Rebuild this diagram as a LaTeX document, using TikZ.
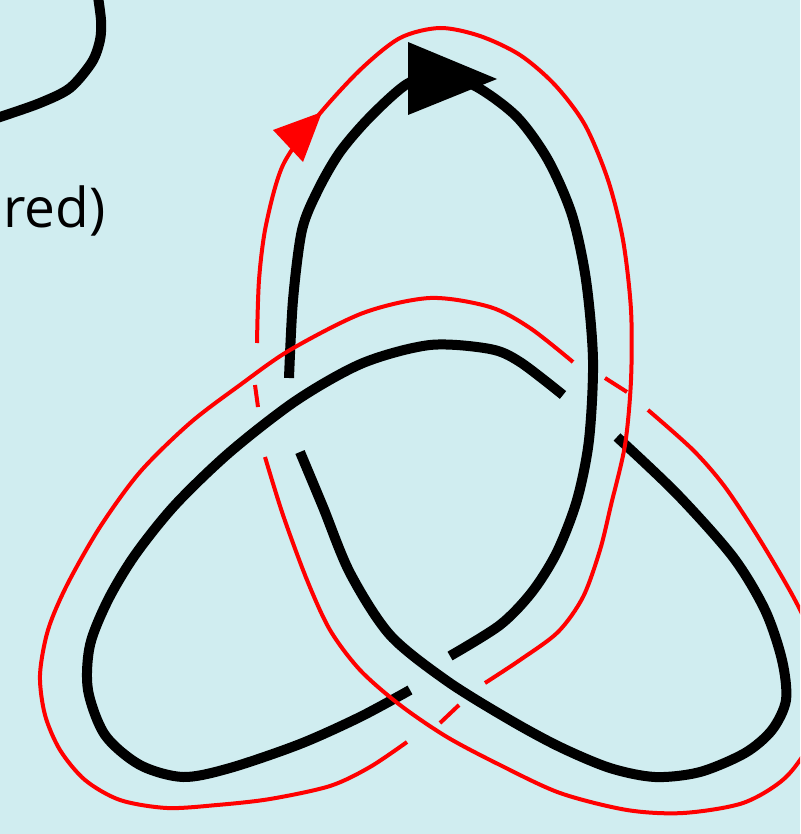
\documentclass[tikz,border=0pt]{standalone}
\usepackage{fontspec}
\setmainfont{Open Sans}
\definecolor{knotbg}{RGB}{208,237,240}
\definecolor{knotred}{RGB}{255,0,0}

\begin{document}
\begin{tikzpicture}[x=1pt,y=-1pt,
    strand/.style={line width=10pt,line cap=butt,line join=round},
    framing/.style={draw=knotred,line width=4pt,line cap=butt,line join=round}]
  \useasboundingbox (0,0) rectangle (800,834);
  \fill[knotbg] (0,0) rectangle (800,834);
  \clip (0,0) rectangle (800,834);
  % piece of the neighbouring drawing, top left
  \draw[strand] plot[smooth] coordinates {(97,-10) (101,20) (100,40) (92,62) (70,88) (40,103) (0,117) (-10,120)};
  \node[anchor=base east,inner sep=0pt,font=\fontsize{55}{66}\selectfont] (lbl) at (106,227) {red)};
  % trefoil, three arcs
  \draw[strand] plot[smooth] coordinates {(289,378) (293,300) (302,230) (318,190) (340,152) (370,117) (407,84) (440,74) (477,87) (517,117) (548,160) (572,215) (586,280) (593,360) (589,440) (577,500) (557,552) (532,592) (500,625) (450,656)};
  \draw[strand] plot[smooth] coordinates {(410,690) (360,717) (300,744) (230,768) (183,777) (140,765) (105,735) (88,690) (90,645) (108,600) (135,555) (175,505) (230,452) (297,400) (363,363) (430,345) (490,349) (520,362) (563,395)};
  \draw[strand] plot[smooth] coordinates {(617,437) (677,494) (733,557) (765,610) (782,660) (786,700) (772,730) (745,753) (700,772) (655,777) (610,768) (560,747) (510,720) (447,681) (390,635) (350,573) (323,507) (300,452)};
  \fill (408,42) -- (497,79) -- (408,115) -- cycle;
  % framing curve
  \draw[framing] plot[smooth] coordinates {(257,343) (259,280) (266,225) (283,165) (317,117) (360,70) (400,38) (440,28) (480,36) (520,55) (555,85) (585,125) (608,180) (623,240) (631,310) (631,380) (625,445) (611,505) (600,550) (583,597) (558,632) (520,660) (485,683)};
  \draw[framing] (459,705) -- (440,723);
  \draw[framing] plot[smooth] coordinates {(407,742) (370,767) (330,786) (270,799) (217,805) (167,808) (120,800) (85,780) (60,750) (45,715) (40,675) (48,630) (67,585) (100,527) (140,472) (190,423) (240,385) (290,350) (363,313) (430,298) (490,307) (530,328) (573,362)};
  \draw[framing] (605,378) -- (627,392);
  \draw[framing] plot[smooth] coordinates {(648,410) (693,450) (725,487) (760,540) (795,600) (818,650) (825,695) (812,740) (785,778) (743,803) (683,813) (627,810) (560,793) (500,765) (447,737) (400,705) (360,670) (330,630) (307,580) (283,515) (265,457)};
  \draw[framing] (255,385) -- (258,407);
  \fill[knotred] (273,130) -- (322,112) -- (303,162) -- cycle;
\end{tikzpicture}
\end{document}
